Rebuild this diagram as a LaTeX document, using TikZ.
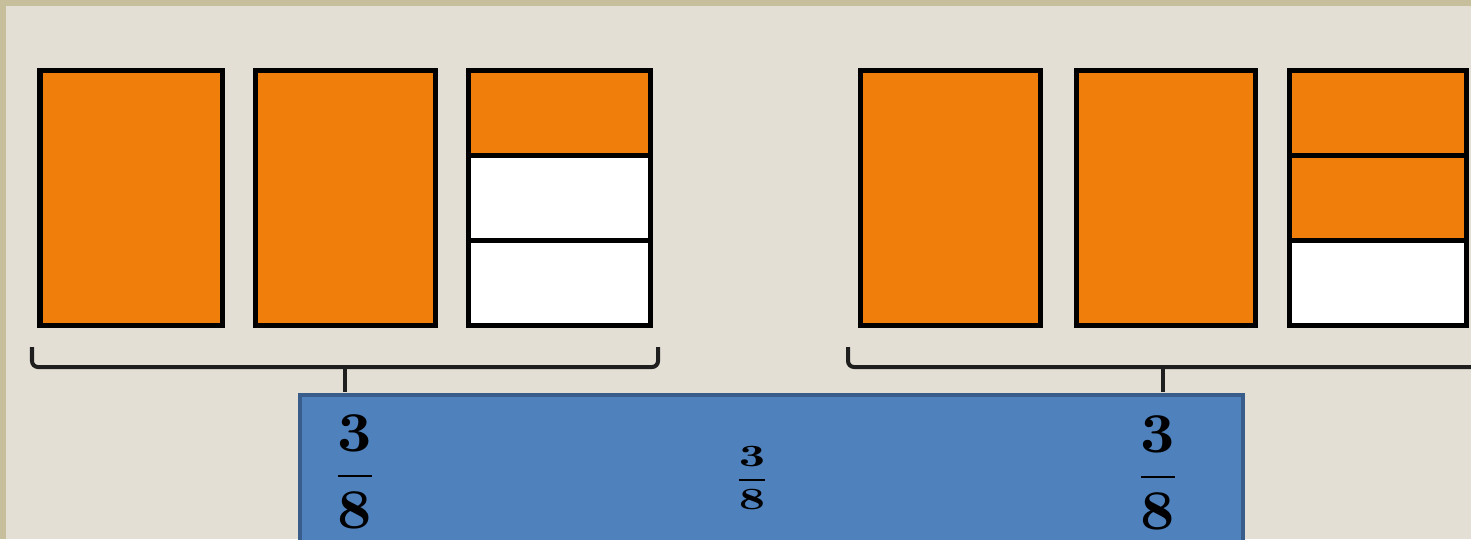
\documentclass[tikz,border=0pt]{standalone}
\definecolor{framecol}{RGB}{199,190,156}
\definecolor{paper}{RGB}{228,223,213}
\definecolor{barorange}{RGB}{239,127,10}
\definecolor{boxblue}{RGB}{79,129,189}
\definecolor{boxline}{RGB}{56,93,138}
\begin{document}
\begin{tikzpicture}[
  x=0.01cm, y=-0.01cm,
  bar/.style={draw=black, line width=0.05cm},
  brace/.style={draw=black!88, line width=0.04cm, rounded corners=0.06cm},
  sumbox/.style={draw=boxline, fill=boxblue, line width=0.045cm},
  bigfrac/.style={xscale=1.7, yscale=1.6, inner sep=0pt},
  smallfrac/.style={xscale=1.3, yscale=0.88, inner sep=0pt}
]
\useasboundingbox (0,0) rectangle (1471,539);
\clip (0,0) rectangle (1471,539);
\fill[framecol] (0,0) rectangle (1471,539);
\fill[paper] (6,6) rectangle (1471,539);

% whole bars
\foreach \l/\r in {40/222, 255/435, 860/1040, 1076/1255}
  \draw[bar, fill=barorange] (\l,70) rectangle (\r,325);

% bars cut in thirds
\foreach \t/\b/\c in {70/155/barorange, 155/240/white, 240/325/white}
  \draw[bar, fill=\c] (468,\t) rectangle (650,\b);
\foreach \t/\b/\c in {70/155/barorange, 155/240/barorange, 240/325/white}
  \draw[bar, fill=\c] (1289,\t) rectangle (1466,\b);

% braces
\coordinate (tipL) at (345,392);
\coordinate (tipR) at (1163,392);
\draw[brace] (32,347) |- (345,367) -| (658,347);
\draw[brace] (848,347) |- (1500,367);
\draw[black!88, line width=0.04cm] (345,366) -- (tipL);
\draw[black!88, line width=0.04cm] (1163,366) -- (tipR);

% sum box
\draw[sumbox] (300,395) rectangle (1243,580);
\node[bigfrac] (fracL) at (355,472) {$\displaystyle\frac{\mathbf{3}}{\mathbf{8}}$};
\node[smallfrac] (fracM) at (752,478) {$\displaystyle\frac{\mathbf{3}}{\mathbf{8}}$};
\node[bigfrac] (fracR) at (1158,473) {$\displaystyle\frac{\mathbf{3}}{\mathbf{8}}$};
\end{tikzpicture}
\end{document}
